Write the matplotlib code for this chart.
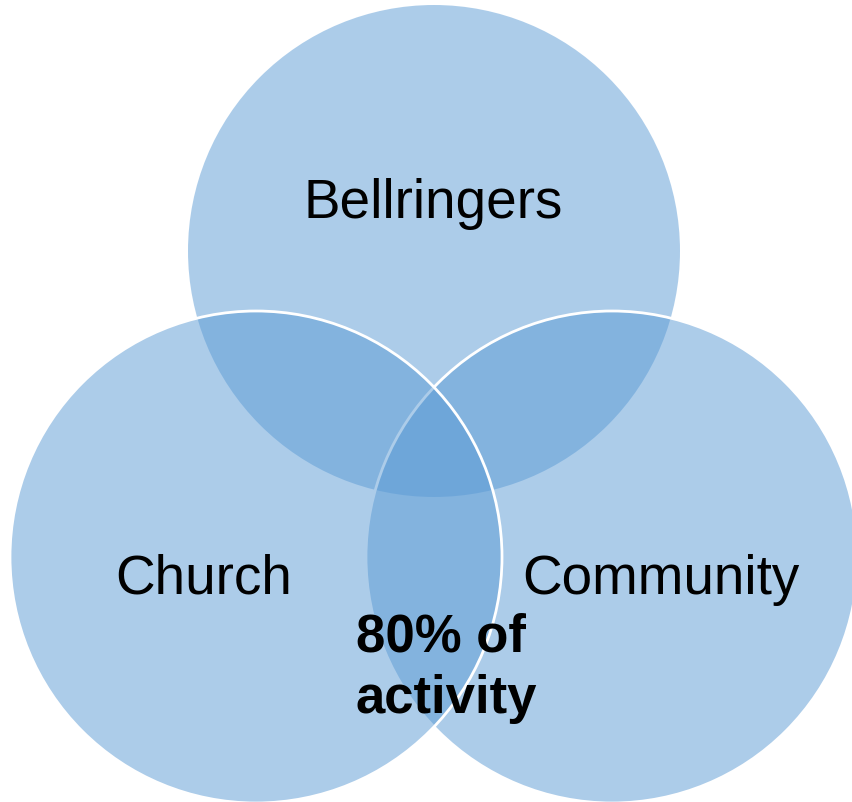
import matplotlib
matplotlib.use("Agg")
import matplotlib.pyplot as plt
from matplotlib.patches import Circle

# sets of the diagram (drawing order: top, right, left)
set_names = ["Bellringers", "Community", "Church"]
centre_note = "80% of\nactivity"

# layout in pixel coordinates of the 853x803 picture
centres = [(434, 252), (612, 558), (256, 558)]
radius = 246
label_pos = [(433, 218), (661, 594), (204, 594)]
edge_on = [False, True, True]

fill = (0.357, 0.608, 0.835, 0.5)  # office blue, half transparent

fig = plt.figure(figsize=(8.53, 8.03), dpi=100)
ax = fig.add_axes([0, 0, 1, 1])
ax.set_xlim(0, 853)
ax.set_ylim(803, 0)
ax.axis("off")

for i, (c, has_edge) in enumerate(zip(centres, edge_on)):
    ax.add_patch(Circle(c, radius, facecolor=fill,
                        edgecolor="white" if has_edge else "none",
                        linewidth=2, zorder=i + 1))

for name, (x, y) in zip(set_names, label_pos):
    ax.text(x, y, name, ha="center", va="baseline", fontsize=39.5,
            family="Liberation Sans", zorder=10)

ax.text(356, 613, centre_note, ha="left", va="top", fontsize=38,
        fontweight="bold", family="Liberation Sans", linespacing=1.27,
        zorder=10)

fig.savefig("out.png", dpi=100)
